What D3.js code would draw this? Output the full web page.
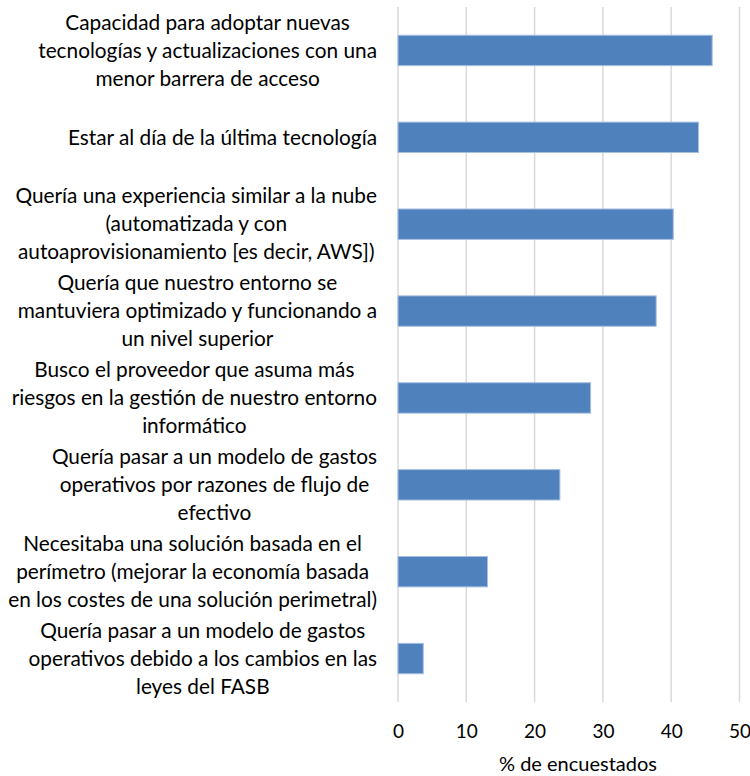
<!DOCTYPE html>
<html>
<head>
<meta charset="utf-8">
<script src="https://cdn.jsdelivr.net/npm/d3@7"></script>
<style>
  body { margin: 0; background: #fff; }
  svg text { font-family: Lato, "Open Sans", sans-serif; fill: #000; }
</style>
</head>
<body>
<div id="svganchor"></div>
<script>
/*
------------------------------
METHOD: data
------------------------------
*/
let categories = [
  ["Capacidad para adoptar nuevas", "tecnologías y actualizaciones con una", "menor barrera de acceso"],
  ["Estar al día de la última tecnología"],
  ["Quería una experiencia similar a la nube", "(automatizada y con", "autoaprovisionamiento [es decir, AWS])"],
  ["Quería que nuestro entorno se", "mantuviera optimizado y funcionando a", "un nivel superior"],
  ["Busco el proveedor que asuma más", "riesgos en la gestión de nuestro entorno", "informático"],
  ["Quería pasar a un modelo de gastos", "operativos por razones de flujo de", "efectivo"],
  ["Necesitaba una solución basada en el", "perímetro (mejorar la economía basada", "en los costes de una solución perimetral)"],
  ["Quería pasar a un modelo de gastos", "operativos debido a los cambios en las", "leyes del FASB"]
];
let values = [46.0, 44.0, 40.3, 37.8, 28.2, 23.7, 13.1, 3.7];
let xTicks = [0, 10, 20, 30, 40, 50];
let xTitle = "% de encuestados";

/*
------------------------------
METHOD: set the size of the canvas
------------------------------
*/
let width = 750;
let height = 776;
let margin = ({top: 7, right: 10.5, bottom: 74, left: 398});
let labelRight = 377;
let labelMaxWidth = 369;   // widest label line in the picture
let lineHeight = 28;

let svg = d3.select("#svganchor")
    .append("svg")
    .attr("width", width)
    .attr("height", height);

let keys = categories.map((c, i) => i);

let xScale = d3.scaleLinear()
    .domain([0, 50])
    .range([margin.left, width - margin.right]);

let yScale = d3.scaleBand()
    .domain(keys)
    .range([margin.top, height - margin.bottom])
    .paddingInner(0.65)
    .paddingOuter(0.325);

// gridlines (the 0 one doubles as the axis line)
svg.append("g")
    .selectAll("line")
    .data(xTicks)
    .join("line")
    .attr("x1", d => xScale(d))
    .attr("x2", d => xScale(d))
    .attr("y1", margin.top)
    .attr("y2", height - margin.bottom)
    .attr("stroke", "#d9d9d9")
    .attr("stroke-width", 1.5);

// bars
svg.append("g")
    .selectAll("rect")
    .data(values)
    .join("rect")
    .attr("x", xScale(0))
    .attr("y", (d, i) => yScale(i))
    .attr("width", d => xScale(d) - xScale(0))
    .attr("height", yScale.bandwidth())
    .attr("fill", "#4f81bd")
    .attr("stroke", "#a7bfdf")
    .attr("stroke-width", 1);

// x axis tick labels
let xAxis = d3.axisBottom(xScale)
    .tickValues(xTicks)
    .tickSize(0)
    .tickPadding(0);

let gx = svg.append("g")
    .attr("transform", "translate(0," + (height - margin.bottom) + ")")
    .call(xAxis);
gx.select(".domain").remove();
gx.selectAll("text")
    .attr("dy", null)
    .attr("y", 36)
    .style("font-size", "19px")
    .attr("font-family", null)
    .attr("fill", "#000");

svg.append("text")
    .attr("x", 578)
    .attr("y", 771)
    .attr("text-anchor", "middle")
    .style("font-size", "20px")
    .text(xTitle);

/*
------------------------------
METHOD: category labels, lines centred, block right-aligned
------------------------------
*/
let labelGroups = svg.append("g")
    .selectAll("g")
    .data(categories)
    .join("g");

labelGroups.each(function(lines, i) {
    let g = d3.select(this);
    let cy = yScale(i) + yScale.bandwidth() / 2;
    g.selectAll("text")
        .data(lines)
        .join("text")
        .attr("text-anchor", "middle")
        .style("font-size", "19px")
        .attr("dy", "0.35em")
        .attr("y", (d, j) => cy + (j - (lines.length - 1) / 2) * lineHeight)
        .text(d => d);
});

// size the label font so the widest line matches the picture
let allLabels = labelGroups.selectAll("text");
let widest = d3.max(allLabels.nodes(), n => n.getComputedTextLength());
let labelSize = 19 * labelMaxWidth / widest;
allLabels.style("font-size", labelSize + "px");

labelGroups.each(function() {
    let texts = d3.select(this).selectAll("text");
    let maxW = d3.max(texts.nodes(), n => n.getComputedTextLength());
    texts.attr("x", labelRight - maxW / 2);
});
</script>
</body>
</html>
